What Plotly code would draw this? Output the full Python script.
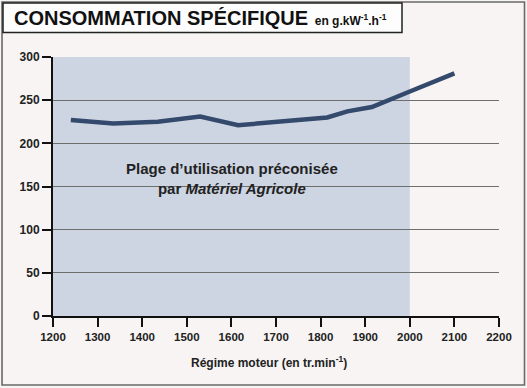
import plotly.graph_objects as go

# Data
regime = [1240, 1335, 1435, 1530, 1615, 1715, 1815, 1860, 1915, 2000, 2100]
consommation = [227, 223, 225, 231, 221, 226, 230, 237, 242, 260, 281]
plage = [1200, 2000]
x_ticks = list(range(1200, 2201, 100))
y_ticks = list(range(0, 301, 50))

BG = "#f7f4f3"
SHADE = "#cdd5e3"
LINE = "#344a6d"

fig = go.Figure()
fig.add_trace(go.Scatter(
    x=regime, y=consommation, mode="lines",
    line=dict(color=LINE, width=4.5), hoverinfo="skip", showlegend=False,
))

shapes = [
    # outer frame
    dict(type="rect", xref="paper", yref="paper", x0=-0.1143, x1=1.0572, y0=-0.2664, y1=1.2124,
         line=dict(color="#6a6a6a", width=1.6), fillcolor="rgba(0,0,0,0)", layer="below"),
    # recommended range
    dict(type="rect", xref="x", yref="y", x0=plage[0], x1=plage[1], y0=0, y1=300,
         fillcolor=SHADE, line=dict(width=0), layer="below"),
    # title box
    dict(type="rect", xref="paper", yref="paper", x0=-0.1121, x1=0.7825, y0=1.0946, y1=1.2085,
         line=dict(color="#222222", width=1.5), fillcolor="#fdfdfd", layer="above"),
]

annotations = [
    dict(xref="paper", yref="paper", x=-0.0919, y=1.151, xanchor="left", yanchor="middle",
         showarrow=False,
         text="<b><span style='font-size:20px'>CONSOMMATION SPÉCIFIQUE</span></b>"
              "<b><span style='font-size:12px'>&nbsp;&nbsp;en g.kW<sup>-1</sup>.h<sup>-1</sup></span></b>",
         font=dict(family="Liberation Sans, Arial, sans-serif", color="#111111")),
    dict(xref="x", yref="y", x=1602, y=159, xanchor="center", yanchor="middle", showarrow=False,
         text="<b>Plage d’utilisation préconisée<br>par <i>Matériel Agricole</i></b>",
         font=dict(family="Liberation Sans, Arial, sans-serif", size=15, color="#222222")),
    dict(xref="paper", yref="paper", x=0.4832, y=-0.1776, xanchor="center", yanchor="middle",
         showarrow=False,
         text="<b>Régime moteur (en tr.min<sup>-1</sup>)</b>",
         font=dict(family="Liberation Sans, Arial, sans-serif", size=12, color="#222222")),
]

fig.update_layout(
    width=527, height=388,
    margin=dict(l=53, r=28, t=57, b=72),
    paper_bgcolor=BG, plot_bgcolor=BG,
    shapes=shapes, annotations=annotations,
    showlegend=False,
)
fig.update_xaxes(
    range=[1200, 2200], tickvals=x_ticks, ticktext=[f"<b>{v}</b>" for v in x_ticks],
    showgrid=False, zeroline=False,
    showline=True, linecolor="#111111", linewidth=2,
    ticks="outside", ticklen=9, tickwidth=2, tickcolor="#111111",
    tickfont=dict(family="Liberation Sans Narrow, Arial Narrow, Liberation Sans, sans-serif",
                  size=11.5, color="#222222"),
)
fig.update_yaxes(
    range=[0, 300], tickvals=y_ticks, ticktext=[f"<b>{v}</b>" for v in y_ticks],
    showgrid=True, gridcolor="#6e6e6e", gridwidth=1.2, zeroline=False,
    showline=True, linecolor="#111111", linewidth=2,
    ticks="outside", ticklen=9, tickwidth=2, tickcolor="#111111",
    tickfont=dict(family="Liberation Sans, Arial, sans-serif", size=12, color="#222222"),
)

fig.write_html(
    "out.html",
    config={"displayModeBar": False, "staticPlot": True},
    post_script="document.body.style.margin='0';document.body.style.overflow='hidden';"
                "document.body.style.background='" + BG + "';",
)
